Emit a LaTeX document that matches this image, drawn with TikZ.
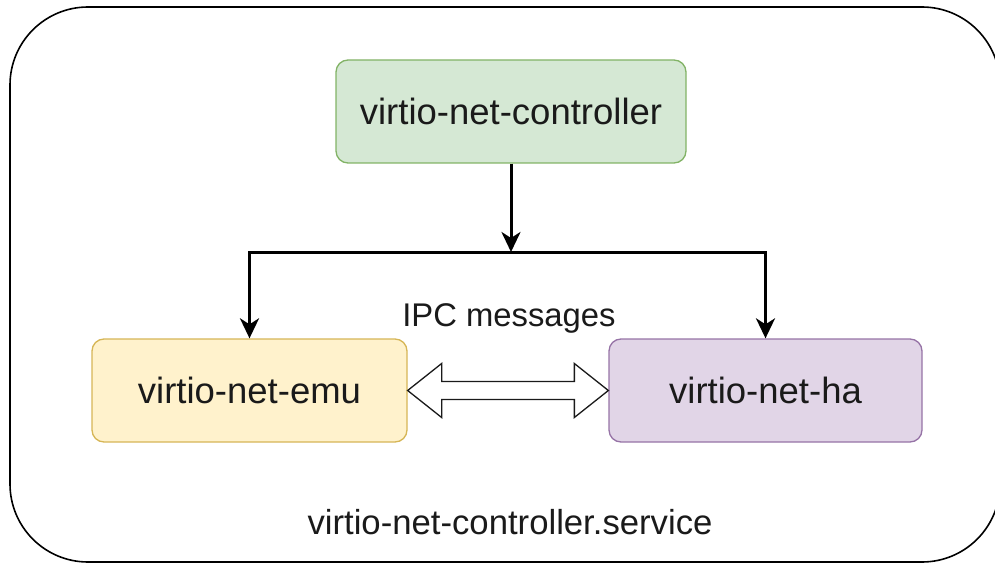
\documentclass[tikz,border=0pt]{standalone}
\usepackage{fontspec}
\setmainfont{Liberation Sans}
\usetikzlibrary{arrows.meta,calc}

\definecolor{ctrlfill}{HTML}{D5E8D4}
\definecolor{ctrldraw}{HTML}{82B366}
\definecolor{emufill}{HTML}{FFF2CC}
\definecolor{emudraw}{HTML}{D6B656}
\definecolor{hafill}{HTML}{E1D5E7}
\definecolor{hadraw}{HTML}{9673A6}
\definecolor{ink}{HTML}{1A1A1A}

\tikzset{
  base/.style={font=\fontsize{34.7}{40}\selectfont, text=ink},
  procbox/.style={base, font=\fontsize{36.5}{42}\selectfont,
    rounded corners=12pt, line width=1.3pt,
    minimum height=103pt, inner sep=0pt},
  container/.style={draw=black, line width=1.6pt, rounded corners=78pt,
    inner sep=0pt},
  arr/.style={draw=black, line width=3pt,
    -{Stealth[length=20pt, width=19pt, inset=6pt]}},
  bigarrow/.style={draw=ink, line width=1.3pt, fill=white, line join=miter},
}

\begin{document}
\begin{tikzpicture}[x=1pt, y=-1pt]
  \useasboundingbox (0,0) rectangle (995,564);

  % enclosing service
  \node[container, minimum width=990pt, minimum height=555pt] (svc) at (505,284.5) {};
  \node[base] (svclabel) at (510,522) {virtio-net-controller.service};

  % processes
  \node[procbox, fill=ctrlfill, draw=ctrldraw, minimum width=350pt] (ctrl) at (511,111.5) {virtio-net-controller};
  \node[procbox, fill=emufill, draw=emudraw, minimum width=315pt] (emu) at (249.5,390.5) {virtio-net-emu};
  \node[procbox, fill=hafill, draw=hadraw, minimum width=313pt] (ha) at (765.5,390.5) {virtio-net-ha};

  % control fan-out
  \coordinate (split) at (511,252);
  \draw[arr] (ctrl.south) -- (split);
  \draw[arr] (split) -| (emu.north);
  \draw[arr] (split) -| (ha.north);

  % IPC link
  \node[base, font=\fontsize{32.8}{38}\selectfont] (ipc) at (509,318) {IPC messages};
  \draw[bigarrow]
    (emu.east)
    -- ($(emu.east)+(34,-27)$)
    -- ($(emu.east)+(34,-9)$)
    -- ($(ha.west)+(-34,-9)$)
    -- ($(ha.west)+(-34,-27)$)
    -- (ha.west)
    -- ($(ha.west)+(-34,27)$)
    -- ($(ha.west)+(-34,9)$)
    -- ($(emu.east)+(34,9)$)
    -- ($(emu.east)+(34,27)$)
    -- cycle;
\end{tikzpicture}
\end{document}
